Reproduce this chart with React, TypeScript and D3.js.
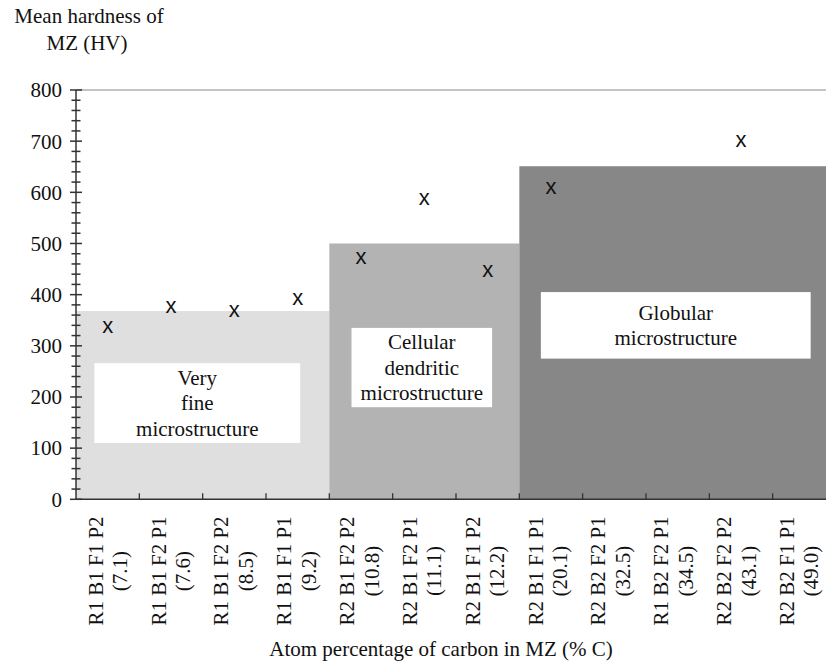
import { useRef, useEffect } from "react";
import * as d3 from "d3";

// category labels (sample id + atom % carbon)
const sampleIds = [
  "R1 B1 F1 P2",
  "R1 B1 F2 P1",
  "R1 B1 F2 P2",
  "R1 B1 F1 P1",
  "R2 B1 F2 P2",
  "R2 B1 F2 P1",
  "R2 B1 F1 P2",
  "R2 B1 F1 P1",
  "R2 B2 F2 P1",
  "R1 B2 F2 P1",
  "R2 B2 F2 P2",
  "R2 B2 F1 P1",
];
const carbonPct = ["7.1", "7.6", "8.5", "9.2", "10.8", "11.1", "12.2", "20.1", "32.5", "34.5", "43.1", "49.0"];

// mean hardness (HV), null where no point is drawn
const hardness: (number | null)[] = [337, 375, 368, 391, 471, 587, 445, 607, null, null, 700, null];

// microstructure zones: first / last category index and zone level (HV)
const zoneNames = ["Very fine microstructure", "Cellular dendritic microstructure", "Globular microstructure"];
const zoneFirst = [0, 4, 7];
const zoneLast = [3, 6, 11];
const zoneLevel = [368, 500, 651];
const zoneColors = ["#dfdfdf", "#b3b3b3", "#878787"];

// label boxes in category units (x) and HV (y)
const boxX0 = [0.29, 4.35, 7.34];
const boxX1 = [3.54, 6.57, 11.6];
const boxTop = [266, 335, 405];
const boxBottom = [110, 180, 275];
const boxLines = [["Very", "fine", "microstructure"], ["Cellular", "dendritic", "microstructure"], ["Globular", "microstructure"]];

const yTicks = [0, 100, 200, 300, 400, 500, 600, 700, 800];

const HardnessChart = () => {
  const svgRef = useRef<SVGSVGElement>(null);

  useEffect(() => {
    const w = 826;
    const h = 669;
    const left = 76;
    const right = 836; // last band is cut by the figure edge
    const top = 90;
    const bottom = 499.3;
    const font = "'Liberation Serif', 'Times New Roman', serif";

    const svg = d3.select(svgRef.current).attr("width", w).attr("height", h);
    svg.selectAll("*").remove();

    const cats = sampleIds.map((d, i) => i);
    const x = d3.scaleBand<number>().domain(cats).range([left, right]).padding(0);
    const xu = d3.scaleLinear().domain([0, sampleIds.length]).range([left, right]);
    // tick labels sit slightly left of the band centres toward the right edge
    const xLab = d3.scaleLinear().domain([0, sampleIds.length - 1]).range([108, 799]);
    const y = d3.scaleLinear().domain([0, 800]).range([bottom, top]);

    // zones
    svg
      .selectAll(".zone")
      .data(zoneNames)
      .join("rect")
      .attr("x", (d, i) => x(zoneFirst[i])!)
      .attr("width", (d, i) => x(zoneLast[i])! + x.bandwidth() - x(zoneFirst[i])!)
      .attr("y", (d, i) => y(zoneLevel[i]))
      .attr("height", (d, i) => y(0) - y(zoneLevel[i]))
      .attr("fill", (d, i) => zoneColors[i]);

    // top border line
    svg
      .append("line")
      .attr("x1", left)
      .attr("x2", right)
      .attr("y1", y(800))
      .attr("y2", y(800))
      .attr("stroke", "#8a8a8a")
      .attr("stroke-width", 1.2);

    // white label boxes
    const boxes = svg.selectAll(".box").data(zoneNames).join("g");
    boxes
      .append("rect")
      .attr("x", (d, i) => xu(boxX0[i]))
      .attr("width", (d, i) => xu(boxX1[i]) - xu(boxX0[i]))
      .attr("y", (d, i) => y(boxTop[i]))
      .attr("height", (d, i) => y(boxBottom[i]) - y(boxTop[i]))
      .attr("fill", "white");
    boxes.each(function (d, i) {
      const cx = (xu(boxX0[i]) + xu(boxX1[i])) / 2;
      const cy = (y(boxTop[i]) + y(boxBottom[i])) / 2;
      const lines = boxLines[i];
      const lh = 25.5;
      d3.select(this)
        .selectAll("text")
        .data(lines)
        .join("text")
        .attr("x", cx)
        .attr("y", (l, j) => cy + (j - (lines.length - 1) / 2) * lh)
        .attr("dy", "0.35em")
        .attr("text-anchor", "middle")
        .style("font-family", font)
        .style("font-size", "21px")
        .style("fill", "#111")
        .text((l) => l);
    });

    // y axis with minor ticks
    const yAxis = svg.append("g");
    yAxis
      .append("line")
      .attr("x1", left)
      .attr("x2", left)
      .attr("y1", y(0))
      .attr("y2", y(800))
      .attr("stroke", "#333")
      .attr("stroke-width", 1.5);
    const minor = d3.range(0, 801, 20);
    yAxis
      .selectAll(".mtick")
      .data(minor)
      .join("line")
      .attr("x1", (d) => (d % 100 === 0 ? left - 6 : left - 4.5))
      .attr("x2", (d) => (d % 100 === 0 ? left + 6 : left + 4.5))
      .attr("y1", (d) => y(d))
      .attr("y2", (d) => y(d))
      .attr("stroke", "#333")
      .attr("stroke-width", 1.5);
    yAxis
      .selectAll(".ylab")
      .data(yTicks)
      .join("text")
      .attr("x", 62)
      .attr("y", (d) => y(d))
      .attr("dy", "0.35em")
      .attr("text-anchor", "end")
      .style("font-family", font)
      .style("font-size", "21px")
      .style("fill", "#111")
      .text((d) => d);

    // x axis
    svg
      .append("line")
      .attr("x1", left)
      .attr("x2", right)
      .attr("y1", y(0))
      .attr("y2", y(0))
      .attr("stroke", "#333")
      .attr("stroke-width", 1.5);
    svg
      .selectAll(".xtick")
      .data(cats.slice(1))
      .join("line")
      .attr("x1", (d) => x(d)!)
      .attr("x2", (d) => x(d)!)
      .attr("y1", y(0))
      .attr("y2", y(0) - 6)
      .attr("stroke", "#333")
      .attr("stroke-width", 1.3);

    const xl = svg
      .selectAll(".xlab")
      .data(cats)
      .join("text")
      .attr("transform", (d) => `translate(${xLab(d)},571) rotate(-90)`)
      .attr("text-anchor", "middle")
      .style("font-family", font)
      .style("font-size", "21px")
      .style("fill", "#111");
    xl.append("tspan")
      .attr("x", 0)
      .attr("y", -12.5)
      .attr("dy", "0.35em")
      .text((d) => sampleIds[d]);
    xl.append("tspan")
      .attr("x", 0)
      .attr("y", 12)
      .attr("dy", "0.35em")
      .text((d) => `(${carbonPct[d]})`);

    // points
    svg
      .selectAll(".pt")
      .data(cats.filter((i) => hardness[i] !== null))
      .join("text")
      .attr("x", (d) => x(d)! + x.bandwidth() / 2)
      .attr("y", (d) => y(hardness[d] as number) + 5.7)
      .attr("text-anchor", "middle")
      .style("font-family", "'Liberation Sans', Arial, sans-serif")
      .style("font-size", "22px")
      .style("fill", "#111")
      .text("x");

    // titles
    svg
      .append("text")
      .attr("x", 89)
      .attr("y", 23)
      .attr("text-anchor", "middle")
      .style("font-family", font)
      .style("font-size", "21px")
      .style("fill", "#111")
      .text("Mean hardness of");
    svg
      .append("text")
      .attr("x", 87)
      .attr("y", 50)
      .attr("text-anchor", "middle")
      .style("font-family", font)
      .style("font-size", "21px")
      .style("fill", "#111")
      .text("MZ (HV)");
    svg
      .append("text")
      .attr("x", 441)
      .attr("y", 656)
      .attr("text-anchor", "middle")
      .style("font-family", font)
      .style("font-size", "21px")
      .style("fill", "#111")
      .text("Atom percentage of carbon in MZ (% C)");
  }, []);

  return (
    <div style={{ position: "absolute", left: 0, top: 0 }}>
      <svg ref={svgRef} style={{ display: "block", background: "white" }}></svg>
    </div>
  );
};

export default function App() {
  return <HardnessChart />;
}
